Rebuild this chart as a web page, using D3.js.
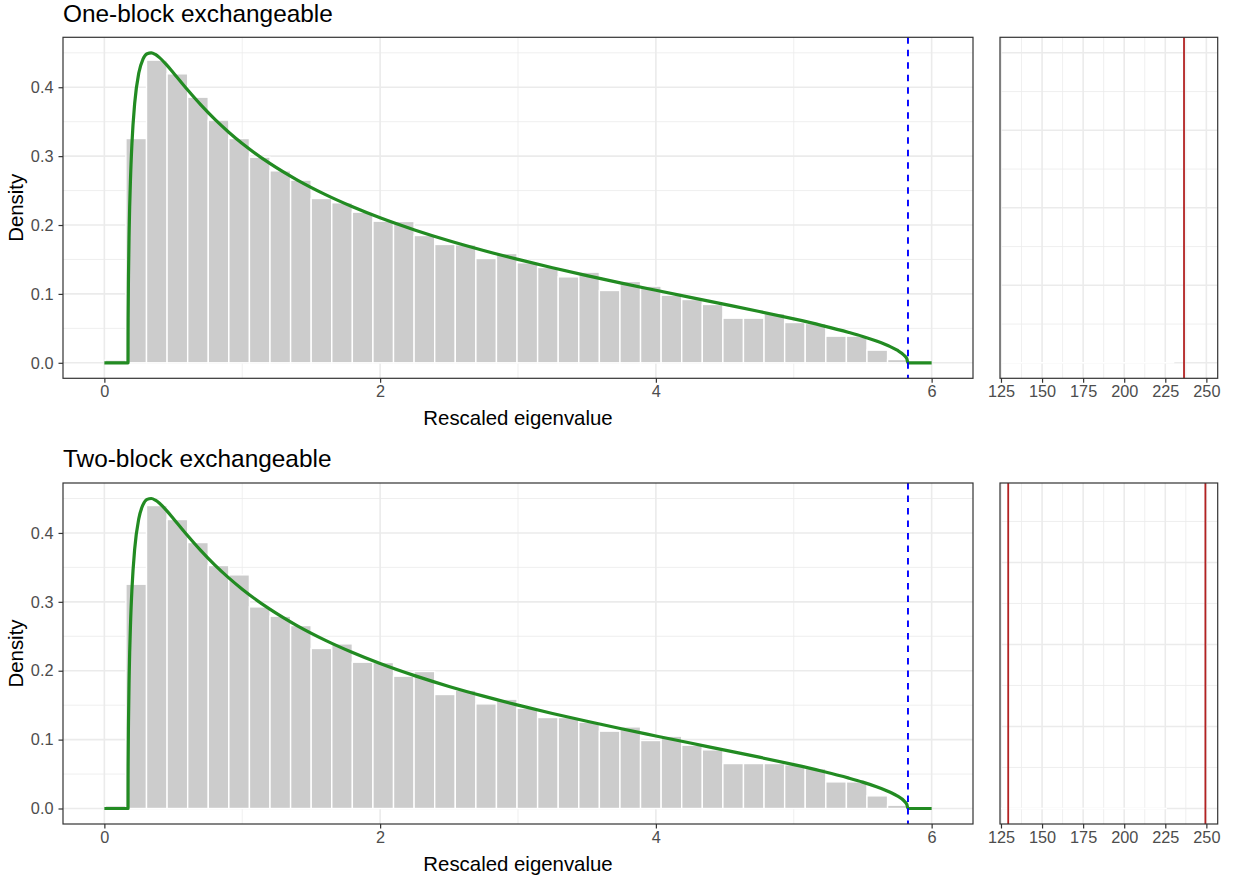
<!DOCTYPE html>
<html>
<head>
<meta charset="utf-8">
<script src="https://cdn.jsdelivr.net/npm/d3@7"></script>
<style>
  html, body { margin: 0; padding: 0; background: #ffffff; }
  svg { display: block; font-family: "Liberation Sans", Arial, Helvetica, sans-serif; }
</style>
</head>
<body>
<svg id="chart" width="1234" height="879"></svg>
<script>
// ---- data ----
const panelTitles = ["One-block exchangeable", "Two-block exchangeable"];

// histogram bins (rescaled eigenvalues)
const binStart = 0.007;
const binWidth = 0.1493;
const densityOneBlock = [
  0.004, 0.3256, 0.4394, 0.4195, 0.3856, 0.3523, 0.3256, 0.2985, 0.2787, 0.2652,
  0.2385, 0.2323, 0.2187, 0.2056, 0.2052, 0.1848, 0.1718, 0.1713, 0.1514, 0.1587,
  0.1452, 0.1384, 0.1248, 0.1316, 0.1050, 0.1181, 0.1113, 0.0982, 0.0919, 0.0847,
  0.0648, 0.0648, 0.0716, 0.0585, 0.0571, 0.0387, 0.0387, 0.0184, 0.0048
];
const densityTwoBlock = [
  0.004, 0.3256, 0.4398, 0.4195, 0.3861, 0.3527, 0.3392, 0.2927, 0.2792, 0.2656,
  0.2323, 0.2390, 0.2124, 0.2119, 0.1921, 0.1989, 0.1655, 0.1718, 0.1519, 0.1587,
  0.1456, 0.1321, 0.1321, 0.1253, 0.1123, 0.1185, 0.0987, 0.1050, 0.0919, 0.0852,
  0.0653, 0.0653, 0.0653, 0.0635, 0.0580, 0.0387, 0.0387, 0.0184, 0.0048
];

// limiting spectral density curve
const curveX = [0, 0.1716, 0.172, 0.1725, 0.175, 0.18, 0.19, 0.2, 0.22, 0.25, 0.28, 0.31, 0.34, 0.37,
  0.4, 0.45, 0.5, 0.6, 0.7, 0.8, 0.9, 1.0, 1.2, 1.4, 1.6, 1.8, 2.0, 2.25, 2.5, 2.75, 3.0,
  3.25, 3.5, 3.75, 4.0, 4.25, 4.5, 4.75, 5.0, 5.2, 5.4, 5.5, 5.6, 5.7, 5.75, 5.8, 5.82, 5.8284, 6.0];
const curveY = [0, 0, 0.044, 0.066, 0.126, 0.1926, 0.2698, 0.3182, 0.3769, 0.4210, 0.4408, 0.4487, 0.4500, 0.4476,
  0.4430, 0.4328, 0.4211, 0.3970, 0.3743, 0.3536, 0.3351, 0.3183, 0.2894, 0.2652, 0.2445, 0.2265, 0.2105, 0.1929, 0.1772, 0.1631, 0.1501,
  0.1380, 0.1266, 0.1157, 0.1053, 0.0950, 0.0848, 0.0745, 0.0637, 0.0544, 0.0441, 0.0383, 0.0316, 0.0235, 0.0183, 0.0110, 0.0060, 0, 0];

// upper spectral edge
const edgeValue = 5.8284;

// outlying eigenvalues (side panels)
const outliersOneBlock = [236.4];
const outliersTwoBlock = [129.4, 249.4];
// empty bins drawn along the baseline of the side panels
const emptyBinsOneBlock = [[125.4, 230.5]];
const emptyBinsTwoBlock = [[125.0, 226.0]];
// side panel vertical extent
const sideTop = [4.0, 3.78];

// ticks
const mainXTicks = [0, 2, 4, 6];
const mainXMinor = [1, 3, 5];
const mainYTicks = [0, 0.1, 0.2, 0.3, 0.4];
const mainYMinor = [0.05, 0.15, 0.25, 0.35, 0.45];
const sideXTicks = [125, 150, 175, 200, 225, 250];
const sideXMinor = [137.5, 162.5, 187.5, 212.5, 237.5];

const rows = [
  { title: panelTitles[0], dens: densityOneBlock, outliers: outliersOneBlock, empty: emptyBinsOneBlock, sTop: sideTop[0] },
  { title: panelTitles[1], dens: densityTwoBlock, outliers: outliersTwoBlock, empty: emptyBinsTwoBlock, sTop: sideTop[1] }
];

// ---- layout ----
const svg = d3.select("#chart");
const mainL = 63, mainR = 973, sideL = 1000, sideR = 1217.7;
const rowTops = [37.3, 483];
const panelH = 341;

const GRID = "#EBEBEB", BORDER = "#333333", TICKTXT = "#4D4D4D";
const TICK_FS = "16.3px", AXIS_FS = "20.4px", TITLE_FS = "24.4px";

rows.forEach((row, ri) => {
  const top = rowTops[ri], bottom = top + panelH;
  const g = svg.append("g");

  // scales (5% expansion on each side)
  const x = d3.scaleLinear().domain([-0.3, 6.3]).range([mainL, mainR]);
  const y = d3.scaleLinear().domain([-0.0225, 0.4725]).range([bottom, top]);
  const sideDomain = [124.4, 256.9];
  const xs = d3.scaleLinear().domain(sideDomain).range([sideL, sideR]);
  const ys = d3.scaleLinear().domain([-0.05 * row.sTop, 1.05 * row.sTop]).range([bottom, top]);
  const sideMajor = d3.range(0, Math.floor(row.sTop) + 1, 1);
  const sideMinor = d3.range(0.5, row.sTop, 1);

  // ---- main panel ----
  const mp = g.append("g");
  mp.append("rect").attr("x", mainL).attr("y", top).attr("width", mainR - mainL).attr("height", panelH).attr("fill", "#fff");
  mp.selectAll(".ymin").data(mainYMinor).join("line")
    .attr("x1", mainL).attr("x2", mainR).attr("y1", d => y(d)).attr("y2", d => y(d))
    .attr("stroke", GRID).attr("stroke-width", 0.8);
  mp.selectAll(".xmin").data(mainXMinor).join("line")
    .attr("y1", top).attr("y2", bottom).attr("x1", d => x(d)).attr("x2", d => x(d))
    .attr("stroke", GRID).attr("stroke-width", 0.8);
  mp.selectAll(".ymaj").data(mainYTicks).join("line")
    .attr("x1", mainL).attr("x2", mainR).attr("y1", d => y(d)).attr("y2", d => y(d))
    .attr("stroke", GRID).attr("stroke-width", 1.6);
  mp.selectAll(".xmaj").data(mainXTicks).join("line")
    .attr("y1", top).attr("y2", bottom).attr("x1", d => x(d)).attr("x2", d => x(d))
    .attr("stroke", GRID).attr("stroke-width", 1.6);

  // histogram bars
  mp.selectAll(".bar").data(row.dens).join("rect")
    .attr("x", (d, i) => x(binStart + i * binWidth))
    .attr("width", x(binWidth) - x(0))
    .attr("y", d => y(d))
    .attr("height", d => y(0) - y(d))
    .attr("fill", "#CCCCCC").attr("stroke", "#ffffff").attr("stroke-width", 1.4);

  // density curve
  const pts = curveX.map((v, i) => [v, curveY[i]]);
  mp.append("path").datum(pts)
    .attr("d", d3.line().x(d => x(d[0])).y(d => y(d[1])).curve(d3.curveMonotoneX))
    .attr("fill", "none").attr("stroke", "#228B22").attr("stroke-width", 3.2)
    .attr("stroke-linejoin", "round");

  // spectral edge
  mp.append("line")
    .attr("x1", x(edgeValue)).attr("x2", x(edgeValue)).attr("y1", top).attr("y2", bottom)
    .attr("stroke", "#0000FF").attr("stroke-width", 1.9).attr("stroke-dasharray", "6.5,6");

  mp.append("rect").attr("x", mainL).attr("y", top).attr("width", mainR - mainL).attr("height", panelH)
    .attr("fill", "none").attr("stroke", BORDER).attr("stroke-width", 1.2);

  // main axes
  const xAxis = d3.axisBottom(x).tickValues(mainXTicks).tickFormat(d3.format("d")).tickSizeOuter(0).tickSize(4.5).tickPadding(3);
  const xa = g.append("g").attr("transform", `translate(0,${bottom})`).call(xAxis);
  const yAxis = d3.axisLeft(y).tickValues(mainYTicks).tickFormat(d3.format(".1f")).tickSizeOuter(0).tickSize(4.5).tickPadding(5);
  const ya = g.append("g").attr("transform", `translate(${mainL},0)`).call(yAxis);

  // ---- side panel ----
  const sp = g.append("g");
  sp.append("rect").attr("x", sideL).attr("y", top).attr("width", sideR - sideL).attr("height", panelH).attr("fill", "#fff");
  sp.selectAll(".symin").data(sideMinor).join("line")
    .attr("x1", sideL).attr("x2", sideR).attr("y1", d => ys(d)).attr("y2", d => ys(d))
    .attr("stroke", GRID).attr("stroke-width", 0.8);
  sp.selectAll(".sxmin").data(sideXMinor).join("line")
    .attr("y1", top).attr("y2", bottom).attr("x1", d => xs(d)).attr("x2", d => xs(d))
    .attr("stroke", GRID).attr("stroke-width", 0.8);
  sp.selectAll(".symaj").data(sideMajor).join("line")
    .attr("x1", sideL).attr("x2", sideR).attr("y1", d => ys(d)).attr("y2", d => ys(d))
    .attr("stroke", GRID).attr("stroke-width", 1.6);
  sp.selectAll(".sxmaj").data(sideXTicks).join("line")
    .attr("y1", top).attr("y2", bottom).attr("x1", d => xs(d)).attr("x2", d => xs(d))
    .attr("stroke", GRID).attr("stroke-width", 1.6);
  sp.selectAll(".empty").data(row.empty).join("line")
    .attr("x1", d => xs(d[0])).attr("x2", d => xs(d[1])).attr("y1", ys(0)).attr("y2", ys(0))
    .attr("stroke", "#ffffff").attr("stroke-width", 1.6);
  sp.selectAll(".outlier").data(row.outliers).join("line")
    .attr("x1", d => xs(d)).attr("x2", d => xs(d)).attr("y1", top).attr("y2", bottom)
    .attr("stroke", "#B22222").attr("stroke-width", 1.8);
  sp.append("rect").attr("x", sideL).attr("y", top).attr("width", sideR - sideL).attr("height", panelH)
    .attr("fill", "none").attr("stroke", BORDER).attr("stroke-width", 1.2);

  const sxAxis = d3.axisBottom(xs).tickValues(sideXTicks).tickFormat(d3.format("d")).tickSizeOuter(0).tickSize(4.5).tickPadding(3);
  const sxa = g.append("g").attr("transform", `translate(0,${bottom})`).call(sxAxis);

  [xa, ya, sxa].forEach(a => {
    a.select(".domain").remove();
    a.selectAll(".tick line").attr("stroke", BORDER).attr("stroke-width", 1.2);
    a.selectAll(".tick text").attr("fill", TICKTXT).style("font-size", TICK_FS)
      .style("font-family", "'Liberation Sans', Arial, sans-serif");
  });

  // titles
  g.append("text").attr("x", 63).attr("y", top - 15.6)
    .style("font-size", TITLE_FS).attr("fill", "#000").text(row.title);
  g.append("text").attr("x", (mainL + mainR) / 2).attr("y", bottom + 46.5)
    .attr("text-anchor", "middle").style("font-size", AXIS_FS).attr("fill", "#000")
    .text("Rescaled eigenvalue");
  g.append("text")
    .attr("transform", `translate(22.5,${(top + bottom) / 2}) rotate(-90)`)
    .attr("text-anchor", "middle").style("font-size", AXIS_FS).attr("fill", "#000")
    .text("Density");
});
</script>
</body>
</html>
